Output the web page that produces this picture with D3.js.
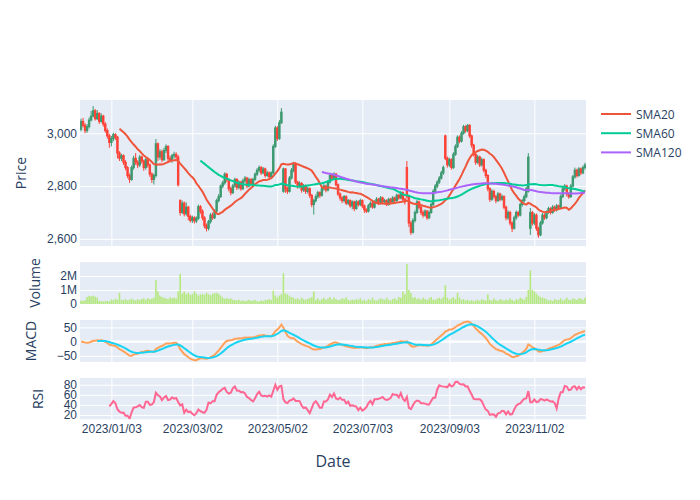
<!DOCTYPE html>
<html><head><meta charset="utf-8">
<script src="https://cdn.jsdelivr.net/npm/d3@7"></script>
<style>body{margin:0;background:#fff}svg{font-family:"Open Sans",verdana,arial,sans-serif}</style>
</head><body><svg id="c" width="700" height="500"></svg>
<script>
// ---- data ----
const opens=[
3015,3045,3030,3010,3025,3050,3065,3085,3055,3075,
3045,3065,3035,3010,2990,2965,2980,2995,2985,2925,
2905,2915,2890,2870,2840,2825,2870,2905,2890,2880,
2910,2895,2870,2900,2880,2845,2825,2840,2960,2910,
2930,2900,2935,2950,2905,2900,2915,2920,2910,2745,
2700,2735,2695,2720,2685,2670,2680,2668,2678,2722,
2705,2680,2650,2640,2665,2690,2680,2705,2745,2760,
2800,2812,2845,2825,2790,2775,2800,2825,2795,2815,
2790,2820,2830,2800,2825,2810,2825,2845,2860,2870,
2850,2865,2840,2850,2835,2850,2950,3020,2980,3040,
2780,2865,2790,2780,2830,2860,2885,2815,2800,2810,
2785,2800,2780,2790,2765,2730,2745,2760,2775,2765,
2790,2800,2785,2815,2840,2830,2845,2805,2770,2755,
2745,2760,2735,2745,2725,2740,2715,2740,2730,2745,
2725,2710,2705,2725,2735,2720,2740,2750,2735,2755,
2740,2745,2730,2750,2740,2755,2745,2765,2755,2775,
2750,2870,2760,2660,2625,2670,2700,2740,2720,2700,
2690,2705,2680,2700,2730,2780,2800,2815,2830,2850,
2990,2905,2880,2900,2870,2920,2950,2985,2970,3000,
3025,3010,3030,2990,2955,2920,2890,2910,2880,2900,
2860,2840,2790,2750,2780,2760,2745,2770,2750,2760,
2720,2680,2700,2660,2640,2680,2700,2690,2730,2745,
2760,2780,2640,2700,2660,2690,2640,2615,2660,2690,
2680,2700,2715,2700,2720,2710,2725,2720,2760,2790,
2800,2770,2760,2800,2835,2860,2840,2865,2850,2870];
const closes=[
3045,3030,3010,3025,3050,3065,3085,3055,3075,3045,
3065,3035,3010,2990,2965,2980,2995,2985,2925,2905,
2915,2890,2870,2840,2825,2870,2905,2890,2880,2910,
2895,2870,2900,2880,2845,2825,2840,2960,2910,2930,
2900,2935,2950,2905,2900,2915,2920,2910,2805,2700,
2735,2695,2720,2685,2670,2680,2668,2678,2722,2705,
2680,2650,2640,2665,2690,2680,2705,2745,2760,2800,
2812,2845,2825,2790,2775,2800,2825,2795,2815,2790,
2820,2830,2800,2825,2810,2825,2845,2860,2870,2850,
2865,2840,2850,2835,2850,2950,3020,2980,3040,3080,
2865,2790,2780,2830,2860,2885,2815,2800,2810,2785,
2800,2780,2790,2765,2730,2745,2760,2775,2765,2790,
2800,2785,2815,2840,2830,2845,2805,2770,2755,2745,
2760,2735,2745,2725,2740,2715,2740,2730,2745,2725,
2710,2705,2725,2735,2720,2740,2750,2735,2755,2740,
2745,2730,2750,2740,2755,2745,2765,2755,2775,2750,
2740,2760,2660,2625,2670,2700,2740,2720,2700,2690,
2705,2680,2700,2730,2780,2800,2815,2830,2850,2870,
2905,2880,2900,2870,2920,2950,2985,2970,3000,3025,
3010,3030,2990,2955,2920,2890,2910,2880,2900,2860,
2840,2790,2750,2780,2760,2745,2770,2750,2760,2720,
2680,2700,2660,2640,2680,2700,2690,2730,2745,2760,
2790,2910,2700,2660,2690,2640,2615,2660,2690,2680,
2700,2715,2700,2720,2710,2725,2720,2760,2790,2800,
2770,2760,2800,2835,2860,2840,2865,2850,2870,2880];
const highs=[
3055,3058,3038,3035,3060,3085,3103,3092,3088,3080,
3075,3070,3042,3018,2998,2990,3002,3000,2990,2932,
2922,2920,2898,2875,2848,2878,2915,2925,2898,2918,
2915,2900,2908,2906,2886,2852,2848,2978,2965,2940,
2938,2945,2958,2955,2915,2922,2930,2928,2918,2750,
2745,2742,2738,2725,2692,2688,2686,2685,2730,2728,
2712,2686,2658,2672,2698,2700,2712,2752,2770,2806,
2820,2852,2850,2830,2798,2808,2832,2830,2822,2820,
2828,2838,2835,2832,2830,2832,2852,2868,2878,2876,
2872,2870,2858,2855,2856,2958,3028,3027,3050,3095,
2870,2868,2798,2838,2868,2892,2890,2820,2818,2815,
2808,2806,2798,2795,2770,2752,2768,2782,2780,2798,
2808,2805,2822,2848,2846,2852,2850,2810,2776,2762,
2766,2765,2752,2750,2746,2745,2748,2746,2752,2750,
2730,2716,2732,2742,2740,2746,2758,2755,2762,2760,
2752,2750,2756,2755,2762,2760,2772,2770,2782,2780,
2756,2895,2765,2668,2678,2708,2748,2745,2726,2708,
2712,2710,2708,2738,2788,2808,2822,2838,2858,2878,
2995,2912,2908,2905,2928,2958,2992,2992,3008,3032,
3030,3035,3034,2995,2960,2925,2918,2915,2908,2905,
2866,2845,2796,2788,2786,2766,2778,2775,2768,2765,
2726,2708,2706,2666,2688,2708,2706,2738,2752,2768,
2798,2925,2717,2706,2698,2696,2646,2668,2698,2696,
2708,2722,2720,2728,2726,2732,2730,2768,2798,2808,
2805,2778,2808,2842,2870,2866,2872,2870,2878,2888];
const lows=[
3008,3022,3000,3002,3018,3045,3060,3048,3050,3035,
3040,3025,3002,2980,2945,2950,2970,2975,2905,2895,
2895,2880,2860,2830,2812,2820,2862,2880,2868,2872,
2885,2858,2862,2870,2835,2812,2806,2832,2895,2900,
2890,2895,2925,2895,2890,2888,2905,2900,2798,2688,
2695,2685,2688,2670,2662,2660,2658,2660,2672,2695,
2670,2640,2628,2632,2658,2672,2675,2700,2738,2755,
2792,2805,2815,2780,2765,2770,2795,2785,2788,2782,
2785,2812,2792,2795,2802,2805,2820,2838,2852,2842,
2845,2832,2835,2826,2828,2845,2944,2971,2975,3035,
2775,2774,2770,2775,2825,2852,2808,2790,2792,2775,
2778,2770,2772,2755,2720,2692,2738,2752,2755,2760,
2782,2776,2780,2810,2822,2825,2798,2762,2745,2735,
2738,2728,2728,2718,2712,2705,2710,2722,2724,2716,
2698,2698,2700,2718,2714,2715,2734,2728,2730,2732,
2734,2724,2726,2732,2735,2738,2740,2748,2750,2742,
2730,2752,2645,2615,2620,2662,2695,2712,2690,2680,
2684,2672,2675,2695,2725,2772,2792,2808,2825,2842,
2898,2870,2872,2862,2865,2915,2944,2962,2965,2995,
3002,3004,2982,2945,2912,2880,2884,2872,2874,2852,
2830,2780,2740,2744,2752,2735,2740,2742,2744,2712,
2670,2672,2650,2626,2635,2672,2682,2685,2722,2738,
2754,2775,2615,2650,2652,2630,2604,2610,2654,2672,
2674,2695,2692,2695,2702,2704,2712,2715,2754,2782,
2760,2752,2755,2795,2828,2832,2835,2842,2845,2862];
// volume in millions
const volumesM=[
0.25,0.22,0.28,
0.5,0.58,0.55,0.6,0.52,0.45,
0.22,0.2,0.18,0.2,0.22,0.18,
0.32,0.28,0.38,0.3,
0.8,
0.3,0.28,0.35,0.25,0.32,0.38,0.3,0.26,0.34,0.28,
0.36,0.4,0.3,0.42,0.35,0.38,0.45,
1.7,
0.9,0.6,0.5,0.45,0.4,0.35,0.48,0.42,0.45,0.4,
0.9,
2.15,
0.75,0.9,0.7,0.8,0.65,0.7,0.9,0.75,0.6,0.68,0.72,0.65,0.8,0.7,0.62,0.72,
0.78,0.8,0.72,0.6,
0.45,0.38,0.42,0.35,0.4,0.3,
0.28,0.25,0.3,0.22,0.26,0.2,0.24,0.3,0.22,0.25,0.28,0.2,0.18,0.25,0.22,0.28,0.3,
0.35,0.28,0.95,
0.6,0.45,0.6,0.7,
2.2,
0.75,0.7,0.55,0.5,0.45,
0.35,0.4,0.3,0.45,0.35,0.3,0.38,0.42,0.5,
0.9,
0.3,0.4,0.25,0.35,0.45,0.3,0.38,0.5,0.32,0.45,0.35,0.28,0.3,0.4,0.35,0.48,0.3,0.25,0.32,0.28,0.35,0.3,0.42,0.25,0.3,0.22,0.35,0.28,0.45,0.3,0.25,0.32,0.4,0.35,0.3,0.45,0.3,0.25,0.35,0.4,0.3,0.5,0.45,
0.9,0.7,
2.85,
1.0,0.8,
0.45,0.5,0.35,0.4,0.3,0.45,0.35,0.28,0.4,0.5,0.32,0.3,0.38,0.45,0.35,0.5,
1.35,
0.45,0.3,0.4,0.5,0.35,
0.8,
0.45,0.3,0.35,0.25,0.3,0.22,0.28,0.2,0.25,0.3,0.22,0.35,0.28,0.25,
0.7,
0.3,0.25,0.4,0.28,0.22,0.35,0.3,0.25,0.32,0.28,0.4,0.3,0.22,0.35,0.3,0.45,0.38,0.3,
0.5,1.0,
2.4,
1.0,0.9,0.75,
0.6,0.5,0.45,0.4,0.35,
0.25,0.3,0.22,0.35,0.28,0.3,0.4,0.25,0.32,0.45,0.3,0.28,0.4,0.35,0.3,0.42,0.38,0.3,0.45];
const tickIndex=[15,55,97,139,182,224];
const tickLabels=["2023/01/03","2023/03/02","2023/05/02","2023/07/03","2023/09/03","2023/11/02"];
const smaNames=["SMA20","SMA60","SMA120"];
const smaWindows=[20,60,120];
const smaColors=["#EF553B","#00CC96","#AB63FA"];
const priceTicks=[2600,2800,3000];
const volTicks=[0,1e6,2e6];
const macdTicks=[-50,0,50];
const rsiTicks=[20,40,60,80];

// ---- derived indicators ----
const N=Math.min(opens.length,closes.length,highs.length,lows.length);
const volumes=volumesM.map(v=>v*1e6);
function sma(a,n){return a.map((_,i)=>i<n-1?null:d3.mean(a.slice(i-n+1,i+1)));}
function ema(a,span){const k=2/(span+1),o=[];a.forEach((v,i)=>o.push(i===0?v:k*v+(1-k)*o[i-1]));return o;}
const cl=closes.slice(0,N);
const e12=ema(cl,12),e26=ema(cl,26);
const macd=cl.map((_,i)=>e12[i]-e26[i]);
const sigFull=ema(macd,9);
const signal=sigFull.map((v,i)=>i<8?null:v);
const rsi=cl.map((_,i)=>{
  if(i<14)return null;
  let g=0,l=0;
  for(let j=i-13;j<=i;j++){const d=cl[j]-cl[j-1];if(d>0)g+=d;else l-=d;}
  if(l===0)return 100;return 100-100/(1+g/l);
});

// ---- layout ----
const svg=d3.select("#c");
const X0=80,X1=586,W=X1-X0;
const x=d3.scaleLinear().domain([-0.5,N-0.5]).range([X0,X1]);
const step=W/N;
const panels={
  price:{y0:100,y1:246,dom:[2573,3126]},
  vol:{y0:262,y1:304,dom:[0,3.0e6]},
  macd:{y0:320,y1:362,dom:[-72,76]},
  rsi:{y0:378,y1:419.3,dom:[11.4,93.4]}
};
const txt="#2a3f5f";
Object.entries(panels).forEach(([k,p])=>{
  p.y=d3.scaleLinear().domain(p.dom).range([p.y1,p.y0]);
  svg.append("rect").attr("x",X0).attr("y",p.y0).attr("width",W).attr("height",p.y1-p.y0).attr("fill","#E5ECF6");
  svg.append("clipPath").attr("id","clip-"+k).append("rect").attr("x",X0).attr("y",p.y0).attr("width",W).attr("height",p.y1-p.y0);
});
function yAxis(p,ticks,fmt){
  const g=svg.append("g").attr("transform",`translate(${X0},0)`)
   .call(d3.axisLeft(p.y).tickValues(ticks).tickFormat(fmt).tickSize(-W).tickPadding(3));
  g.select(".domain").remove();
  g.selectAll("line").attr("stroke","#fff").attr("stroke-width",1);
  g.selectAll("text").attr("fill",txt).style("font-size","12px");
  return g;
}
function xGrid(p,labels){
  const g=svg.append("g").attr("transform",`translate(0,${p.y1})`)
   .call(d3.axisBottom(x).tickValues(tickIndex).tickFormat((d,i)=>labels?tickLabels[i]:"").tickSize(-(p.y1-p.y0)).tickPadding(5));
  g.select(".domain").remove();
  g.selectAll("line").attr("stroke","#fff").attr("stroke-width",1);
  g.selectAll("text").attr("fill",txt).style("font-size","12px");
}
xGrid(panels.price,false);xGrid(panels.macd,false);xGrid(panels.rsi,true);
yAxis(panels.price,priceTicks,d3.format(","));
yAxis(panels.vol,volTicks,d=>d===0?"0":(d/1e6)+"M");
yAxis(panels.macd,macdTicks,d=>d<0?"\u2212"+Math.abs(d):String(d));
yAxis(panels.rsi,rsiTicks,d=>String(d));
// macd zero line
svg.append("line").attr("x1",X0).attr("x2",X1).attr("y1",panels.macd.y(0)).attr("y2",panels.macd.y(0)).attr("stroke","#fff").attr("stroke-width",2);

// ---- candles ----
const pg=svg.append("g").attr("clip-path","url(#clip-price)");
const py=panels.price.y;
const bw=step*0.7;
d3.range(N).forEach(i=>{
  const up=closes[i]>=opens[i];
  const col=up?"#3D9970":"#FF4136";
  const cx=x(i);
  pg.append("line").attr("x1",cx).attr("x2",cx).attr("y1",py(highs[i])).attr("y2",py(lows[i])).attr("stroke",col).attr("stroke-width",1);
  const top=py(Math.max(opens[i],closes[i])),bot=py(Math.min(opens[i],closes[i]));
  pg.append("rect").attr("x",cx-bw/2).attr("y",top).attr("width",bw).attr("height",Math.max(bot-top,0.5))
    .attr("fill",col).attr("stroke",col).attr("stroke-width",1);
});
// ---- SMA lines ----
smaWindows.forEach((n,k)=>{
  const s=sma(cl,n);
  pg.append("path").datum(s.map((v,i)=>[i,v]))
    .attr("d",d3.line().defined(d=>d[1]!=null).x(d=>x(d[0])).y(d=>py(d[1])))
    .attr("fill","none").attr("stroke",smaColors[k]).attr("stroke-width",2);
});
// ---- volume ----
const vg=svg.append("g").attr("clip-path","url(#clip-vol)");
const vy=panels.vol.y;
volumes.slice(0,N).forEach((v,i)=>{
  vg.append("rect").attr("x",x(i)-step*0.4).attr("width",step*0.8).attr("y",vy(v)).attr("height",vy(0)-vy(v)).attr("fill","#B6E880");
});
// ---- MACD ----
const mg=svg.append("g").attr("clip-path","url(#clip-macd)");
const my=panels.macd.y;
const ln=d3.line().defined(d=>d[1]!=null).x(d=>x(d[0])).y(d=>my(d[1]));
mg.append("path").datum(macd.map((v,i)=>[i,v])).attr("d",ln).attr("fill","none").attr("stroke","#FFA15A").attr("stroke-width",2);
mg.append("path").datum(signal.map((v,i)=>[i,v])).attr("d",ln).attr("fill","none").attr("stroke","#19D3F3").attr("stroke-width",2);
// ---- RSI ----
const rg=svg.append("g").attr("clip-path","url(#clip-rsi)");
const ry=panels.rsi.y;
rg.append("path").datum(rsi.map((v,i)=>[i,v]))
  .attr("d",d3.line().defined(d=>d[1]!=null).x(d=>x(d[0])).y(d=>ry(d[1])))
  .attr("fill","none").attr("stroke","#FF6692").attr("stroke-width",2);

// ---- titles ----
function ytitle(t,cx,cy){svg.append("text").attr("transform",`translate(${cx},${cy}) rotate(-90)`).attr("text-anchor","middle").attr("dominant-baseline","central").attr("fill",txt).style("font-size","14px").text(t);}
ytitle("Price",20,173);ytitle("Volume",34,283);ytitle("MACD",30,341);ytitle("RSI",37,399);
svg.append("text").attr("x",333).attr("y",461).attr("text-anchor","middle").attr("dominant-baseline","central").attr("fill",txt).style("font-size","16px").text("Date");
// ---- legend ----
smaNames.forEach((nm,k)=>{
  const yy=114+k*19.2;
  svg.append("line").attr("x1",601).attr("x2",631).attr("y1",yy).attr("y2",yy).attr("stroke",smaColors[k]).attr("stroke-width",2);
  svg.append("text").attr("x",636).attr("y",yy).attr("dominant-baseline","central").attr("fill",txt).style("font-size","12px").text(nm);
});
</script></body></html>
